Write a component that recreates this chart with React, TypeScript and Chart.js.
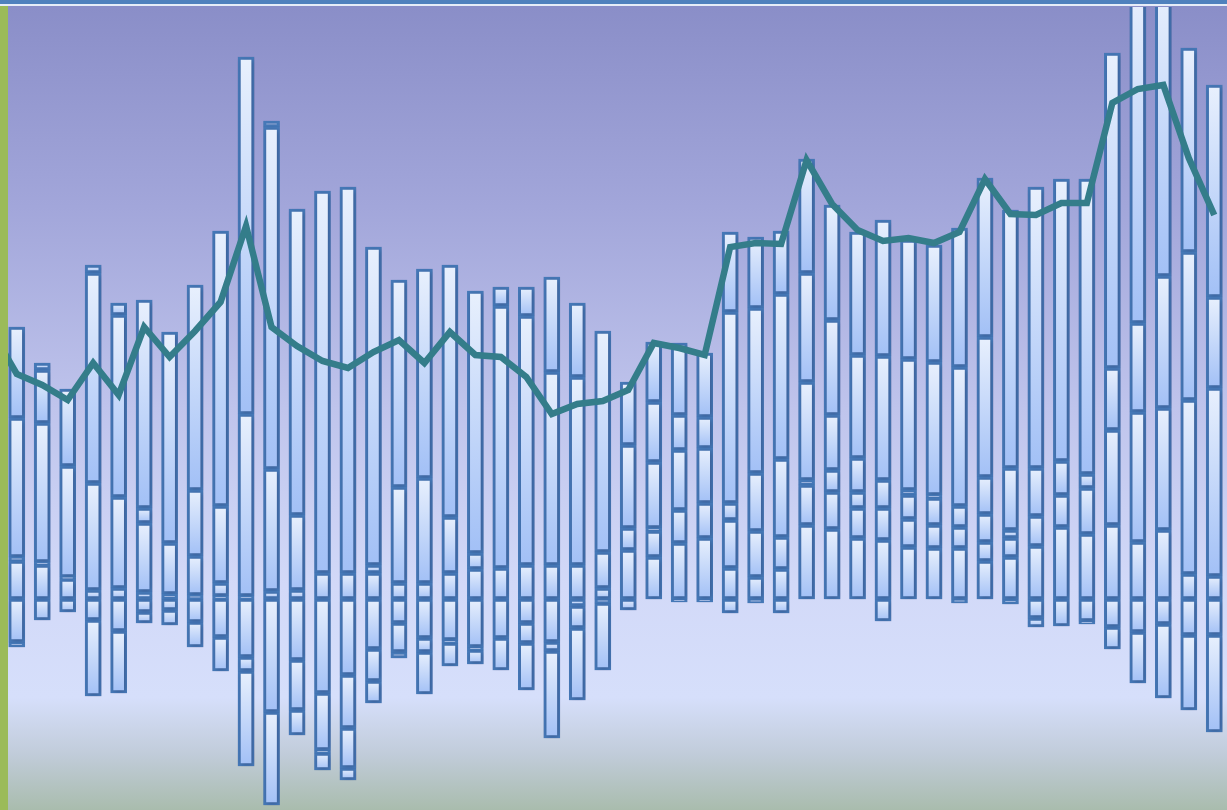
import React, { useEffect, useRef } from 'react';
import { Chart, registerables } from 'chart.js';

Chart.register(...registerables);

// Period labels (index 0 is the period just before the visible window)
const categories = [
  'T00', 'T01', 'T02', 'T03', 'T04', 'T05', 'T06', 'T07', 'T08', 'T09',
  'T10', 'T11', 'T12', 'T13', 'T14', 'T15', 'T16', 'T17', 'T18', 'T19',
  'T20', 'T21', 'T22', 'T23', 'T24', 'T25', 'T26', 'T27', 'T28', 'T29',
  'T30', 'T31', 'T32', 'T33', 'T34', 'T35', 'T36', 'T37', 'T38', 'T39',
  'T40', 'T41', 'T42', 'T43', 'T44', 'T45', 'T46', 'T47', 'T48',
];

// Positive components, stacked outward from zero
const P1 = [
  null, 9.5, 8.5, 5, 2.25, 2.75, 1.75, 1.25, 1, 0.75,
  0.75, 2, 2.25, 6.5, 6.5, 6.5, 4, 4, 6.5, 7.5,
  7.75, 8.5, 8.5, 8.5, 2.75, 12.25, 10.5, 14, 15.25, 7.75,
  5.5, 7.5, 18.5, 17.5, 15.25, 14.75, 13, 12.75, 12.75, 9.5,
  10.5, 13.25, 18, 16.25, 18.5, 14.25, 17.25, 6.25, 5.75,
];
const P2 = [
  null, 1, 0.75, 0.5, 26.75, 22.75, 17.25, 12.75, 9.75, 3.25,
  45.5, 30.5, 18.75, 95.5, 96.5, 2, 24, 26.25, 14, 4,
  65.5, 62.25, 48.25, 47, 9, 5.5, 6.5, 8.25, 8.75, 12,
  11.5, 8, 10, 9.25, 7.5, 8, 7, 5.75, 5.25, 4.75,
  4.75, 7.5, 8, 11.5, 23.75, 32.5, 30.5, 43.5, 47,
];
const P3 = [
  null, 34.75, 34.75, 27.75, 52.5, 45.5, 3.75, 52.75, 16.5, 19.25,
  89.25, 85.5, 76.5, null, null, 79.5, 51.75, 52.25, 63, 65.5,
  4.75, 7.25, 23.75, 18.5, 55.25, 20.75, 0.75, 15, 13.75, 4.25,
  14.5, 19.5, 1.25, 5.5, 4, 7, 6, 6.75, 5.25, 7,
  2, 12, 8.5, 3.5, 15.5, 22.25, 33, 37, 22.75,
];
const P4 = [
  null, 22.75, 13.25, 19.25, 2, 3, 52, null, 51.25, 68.75,
  null, 1.5, null, null, null, null, null, null, null, null,
  null, null, null, null, null, 15.75, 16.5, 8.75, 7.75, 47.75,
  41.25, 41.25, 24.5, 13.75, 8.5, 31, 1.25, 0.75, 34.75, 9.25,
  15.5, 70.25, 70.5, 73.75, 78.75, 85, 72.5, 51, 53,
];
const P5 = [
  null, null, 1.75, null, null, null, null, null, null, null,
  null, null, null, null, null, null, null, null, null, null,
  null, null, null, null, null, null, 15, 18, 16, 20,
  17.75, 15.75, 27.25, 23.75, 25.75, 34, 32.75, 33.25, 34.75, 35,
  64.5, null, null, null, null, null, null, null, null,
];
const P6 = [
  null, null, null, null, null, null, null, null, null, null,
  null, null, null, null, null, null, null, null, null, null,
  null, null, null, null, null, null, 15, null, null, null,
  null, null, 28.5, 28.75, 30.75, null, 29.75, 29.25, null, 39.75,
  null, null, null, null, null, null, null, null, null,
];

// Negative components, stacked downward from zero
const N1 = [
  null, -10.75, -5.25, -3.25, -5.25, -8, -3.25, -2.75, -5.75, -9.5,
  -14.5, -28.25, -15.25, -23.5, -19, -12.5, -6, -9.75, -10.25, -12,
  -9.75, -6, -10.75, -1.75, -1, -2.75, null, -0.75, -0.75, -3.5,
  -1, -3.5, null, null, null, -5.5, null, null, -1, null,
  -1.25, -4.75, -6.75, -5.5, -7, -8.25, -6.25, -9, -9,
];
const N2 = [
  null, -1.25, null, null, -19, -15.5, -2.75, -3.75, -6.25, -8.5,
  -3.5, -23.25, -12.5, -14.25, -13.25, -8, -7.25, -3.5, -0.75, -0.75,
  -8, -5, -2.25, -5.5, -16.75, null, null, null, null, null,
  null, null, null, null, null, null, null, null, null, null,
  null, -2.25, null, -0.75, -5.5, -12.75, -18.5, -18.75, -24.25,
];
const N3 = [
  null, null, null, null, null, null, null, null, null, null,
  -23.75, null, -6.25, -0.75, -10, -5.5, -1.5, -10.5, -5.75, -3.5,
  null, -11.75, -21.75, -18, null, null, null, null, null, null,
  null, null, null, null, null, null, null, null, null, null,
  null, null, null, null, null, null, null, null, null,
];
const N4 = [
  null, null, null, null, null, null, null, null, null, null,
  null, null, null, -4.25, -3, null, null, null, null, null,
  null, null, null, null, null, null, null, null, null, null,
  null, null, null, null, null, null, null, null, null, null,
  null, null, null, null, null, null, null, null, null,
];

// Overlay line
const lineValues = [
  67.25, 56.25, 53.5, 49.75, 59, 51, 68, 60.5, 67, 74.25,
  93.25, 68, 63.25, 59.5, 57.75, 61.75, 64.75, 59, 66.75, 61,
  60.5, 55.5, 46.25, 48.75, 49.5, 52.25, 64, 62.75, 61, 88,
  89, 88.75, 109.75, 98.75, 92.25, 89.5, 90.25, 89, 91.75, 105,
  96.25, 96, 99, 99, 124, 127.5, 128.5, 110.25, 96,
];

const positiveSeries = [P1, P2, P3, P4, P5, P6];
const negativeSeries = [N1, N2, N3, N4];

const Y_MIN = -52.75;
const Y_MAX = 148;

export default function App() {
  const ref = useRef<HTMLCanvasElement>(null);

  useEffect(() => {
    const canvas = ref.current;
    if (!canvas) return;

    const groups = [
      ...positiveSeries.map((d, k) => ({ d, k, list: positiveSeries })),
      ...negativeSeries.map((d, k) => ({ d, k, list: negativeSeries })),
    ];

    const segFill = (c: any) => {
      const fallback = '#c6d8f9';
      const chart = c.chart;
      const y = chart && chart.scales ? chart.scales.y : null;
      if (!y || c.type !== 'data') return fallback;
      const g = groups[c.datasetIndex];
      if (!g) return fallback;
      const i = c.dataIndex;
      let start = 0;
      for (let j = 0; j < g.k; j++) {
        const v = g.list[j][i];
        if (typeof v === 'number') start += v;
      }
      const v = g.d[i];
      if (typeof v !== 'number') return fallback;
      const end = start + v;
      const top = y.getPixelForValue(Math.max(start, end));
      const bottom = y.getPixelForValue(Math.min(start, end));
      if (!isFinite(top) || !isFinite(bottom) || bottom - top < 0.5) return fallback;
      const grad = chart.ctx.createLinearGradient(0, top, 0, bottom);
      grad.addColorStop(0, '#e8f0fd');
      grad.addColorStop(1, '#a2c0f6');
      return grad;
    };

    const framePlugin = {
      id: 'frame',
      beforeDraw(chart: any) {
        const { ctx, width, height } = chart;
        ctx.save();
        const g = ctx.createLinearGradient(0, 6, 0, height);
        g.addColorStop(0, '#8a8ec8');
        g.addColorStop(0.25, '#a2a6da');
        g.addColorStop(0.5, '#bfc4ec');
        g.addColorStop(0.72, '#d2d9f8');
        g.addColorStop(0.86, '#d6dffb');
        g.addColorStop(0.93, '#c1ccda');
        g.addColorStop(1, '#a9bcad');
        ctx.fillStyle = g;
        ctx.fillRect(0, 6, width, height - 6);
        ctx.restore();
      },
      beforeDatasetDraw(chart: any, args: any) {
        if (args.meta.type === 'bar') {
          const ctx = chart.ctx;
          ctx.save();
          ctx.shadowColor = 'rgba(40, 45, 90, 0.45)';
          ctx.shadowBlur = 5;
          ctx.shadowOffsetX = 1;
          ctx.shadowOffsetY = 1;
        }
      },
      afterDatasetDraw(chart: any, args: any) {
        if (args.meta.type === 'bar') {
          chart.ctx.restore();
        }
      },
      afterDatasetsDraw(chart: any) {
        const { ctx, width, height } = chart;
        ctx.save();
        ctx.fillStyle = '#9bbb59';
        ctx.fillRect(0, 0, 8, height);
        ctx.fillStyle = '#4f81bd';
        ctx.fillRect(0, 0, width, 4);
        ctx.fillStyle = '#e6edf8';
        ctx.fillRect(0, 4, width, 2);
        ctx.restore();
      },
    };

    const barBase = {
      type: 'bar' as const,
      stack: 's',
      order: 1,
      barThickness: 16,
      borderColor: '#4579b8',
      borderWidth: 3,
      borderSkipped: false as const,
      backgroundColor: segFill,
    };

    const datasets: any[] = [
      ...positiveSeries.map((d, k) => ({ ...barBase, label: 'P' + (k + 1), data: d })),
      ...negativeSeries.map((d, k) => ({ ...barBase, label: 'N' + (k + 1), data: d })),
      {
        type: 'line',
        label: 'Line',
        data: lineValues,
        stack: 'line',
        order: 0,
        borderColor: '#347d8a',
        borderWidth: 6.5,
        borderJoinStyle: 'miter',
        pointRadius: 0,
        tension: 0,
        fill: false,
      },
    ];

    const chart = new Chart(canvas, {
      type: 'bar',
      data: { labels: categories, datasets },
      options: {
        responsive: false,
        animation: false,
        devicePixelRatio: 1,
        events: [],
        layout: { padding: { left: 4, right: 0, top: 7, bottom: 0 } },
        plugins: { legend: { display: false }, tooltip: { enabled: false } },
        scales: {
          x: {
            type: 'category',
            min: categories[1],
            offset: true,
            display: false,
            stacked: true,
            grid: { display: false },
          },
          y: {
            display: false,
            stacked: true,
            min: Y_MIN,
            max: Y_MAX,
            grid: { display: false },
          },
        },
      } as any,
      plugins: [framePlugin],
    });

    return () => chart.destroy();
  }, []);

  return (
    <div style={{ position: 'absolute', left: 0, top: 0, width: 1227, height: 810 }}>
      <canvas ref={ref} width={1227} height={810} style={{ display: 'block' }} />
    </div>
  );
}
